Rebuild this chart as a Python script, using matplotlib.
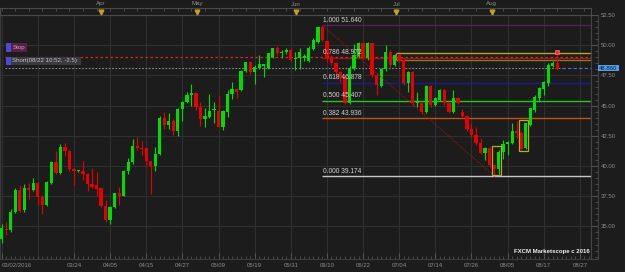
import matplotlib
matplotlib.use('Agg')
import matplotlib.pyplot as plt
import matplotlib.transforms as mtransforms
from matplotlib.patches import Rectangle
import numpy as np

plt.rcParams['font.family'] = ['Liberation Sans', 'DejaVu Sans']

# daily candles, 03/02/2016 .. 08/22/2016
opens = [33.96, 34.8, 34.7, 36.2, 38.0, 36.33, 38.2, 38.0, 38.6, 37.4,
         36.8, 38.6, 40.3, 39.4, 41.6, 41.2, 39.75, 39.6, 39.6, 39.3,
         38.5, 38.4, 38.15, 36.7, 35.5, 36.6, 37.74, 37.55, 39.6, 40.3,
         41.65, 41.5, 41.45, 40.4, 40.0, 40.97, 43.95, 43.4, 43.7, 42.9,
         44.7, 45.3, 45.85, 46.05, 44.9, 43.87, 44.05, 44.65, 44.58, 43.25,
         44.5, 46.0, 46.4, 46.3, 47.86, 48.58, 47.76, 48.14, 48.3, 48.09,
         49.05, 49.74, 49.33, 49.45, 49.6, 48.85, 48.9, 48.95, 48.69, 49.69,
         50.29, 51.53, 50.35, 49.05, 48.55, 47.8, 47.4, 45.19, 48.09, 49.05,
         50.16, 48.9, 50.15, 47.53, 46.65, 48.05, 49.46, 48.36, 49.19, 48.77,
         46.85, 47.8, 45.25, 45.19, 44.5, 46.62, 45.05, 45.46, 46.3, 45.19,
         44.5, 45.6, 44.5, 44.14, 43.04, 42.57, 41.93, 41.05, 41.47, 40.08,
         39.73, 41.18, 41.85, 41.88, 42.92, 42.75, 41.47, 43.4, 44.64, 45.66,
         46.35, 46.9, 48.28, 48.55]
highs = [35.2, 35.39, 36.4, 38.2, 38.4, 38.5, 38.6, 39.0, 38.7, 37.6,
         38.75, 40.45, 41.2, 41.8, 41.9, 41.3, 39.8, 39.7, 40.4, 39.4,
         39.8, 39.5, 38.25, 37.2, 36.7, 37.8, 38.3, 39.7, 40.7, 42.2,
         42.4, 42.1, 41.6, 40.4, 41.55, 44.1, 44.45, 44.35, 43.9, 44.8,
         45.35, 46.15, 46.76, 46.1, 45.3, 44.8, 46.0, 45.3, 45.9, 44.6,
         46.3, 46.98, 46.45, 47.95, 48.65, 48.7, 48.35, 49.2, 48.45, 49.35,
         49.8, 49.9, 49.6, 49.75, 49.75, 49.45, 49.75, 49.3, 49.9, 50.6,
         51.6, 51.64, 50.45, 49.2, 48.6, 47.85, 47.55, 48.25, 50.07, 50.3,
         50.25, 50.3, 50.2, 47.7, 48.1, 50.0, 49.6, 49.3, 49.3, 48.9,
         47.9, 47.9, 46.1, 45.3, 46.7, 46.7, 45.7, 46.4, 46.4, 45.3,
         46.3, 45.7, 44.7, 44.2, 43.6, 43.2, 42.3, 41.6, 41.6, 40.2,
         41.3, 42.15, 42.1, 43.6, 43.7, 42.9, 43.6, 44.9, 45.85, 46.55,
         47.0, 48.5, 48.7, 49.6]
lows = [33.65, 34.3, 34.5, 36.1, 36.2, 36.2, 37.3, 37.9, 36.8, 36.0,
        36.7, 38.5, 39.3, 39.3, 40.8, 39.6, 38.4, 39.5, 38.8, 37.96,
        38.2, 37.5, 36.6, 35.4, 35.2, 36.5, 36.8, 37.5, 39.3, 40.2,
        41.3, 40.9, 40.0, 37.7, 39.6, 40.9, 43.1, 43.1, 42.6, 42.5,
        43.75, 45.2, 45.0, 44.6, 43.3, 43.25, 43.95, 43.6, 43.2, 43.0,
        44.03, 45.55, 45.6, 46.2, 47.8, 47.6, 46.76, 48.0, 47.4, 48.0,
        48.95, 49.2, 48.9, 49.3, 48.7, 47.95, 48.03, 48.7, 48.6, 49.6,
        50.2, 50.35, 48.58, 48.4, 47.53, 46.98, 45.1, 45.1, 47.95, 48.95,
        48.9, 48.8, 47.4, 45.88, 46.5, 47.9, 48.2, 48.25, 48.6, 46.7,
        46.1, 45.0, 44.9, 44.3, 44.4, 44.9, 44.95, 45.35, 45.05, 44.4,
        44.4, 45.1, 44.0, 42.9, 42.4, 41.74, 41.0, 40.5, 39.95, 39.174,
        39.3, 40.6, 40.9, 41.8, 42.3, 41.3, 41.4, 43.3, 44.5, 45.3,
        45.9, 46.6, 48.2, 47.95]
closes = [34.87, 34.7, 36.2, 38.0, 36.3, 38.15, 38.0, 38.6, 37.4, 36.8,
          38.65, 40.3, 39.4, 41.6, 41.2, 39.75, 39.6, 39.65, 39.3, 38.5,
          38.3, 38.1, 36.7, 35.5, 36.6, 37.74, 37.5, 39.6, 40.33, 41.65,
          41.45, 41.4, 40.4, 40.0, 40.97, 43.95, 43.4, 43.7, 42.9, 44.7,
          45.3, 45.88, 46.05, 44.9, 43.87, 44.1, 44.53, 44.7, 43.25, 44.53,
          46.0, 46.4, 46.15, 47.86, 48.58, 47.8, 48.22, 48.42, 48.42, 49.33,
          49.74, 49.33, 49.45, 49.6, 48.78, 48.95, 49.4, 49.1, 49.74, 50.43,
          51.53, 50.43, 48.9, 48.5, 47.76, 47.4, 45.19, 48.09, 49.19, 50.16,
          49.0, 50.15, 47.53, 46.7, 48.05, 49.46, 48.36, 49.19, 48.72, 46.85,
          47.8, 45.19, 45.35, 44.5, 46.62, 45.05, 45.6, 46.3, 45.19, 44.5,
          45.6, 45.24, 44.14, 43.04, 42.57, 41.88, 41.1, 41.47, 40.08, 39.73,
          41.18, 41.8, 41.95, 42.92, 42.75, 41.38, 43.53, 44.78, 45.74, 46.43,
          46.93, 48.36, 48.55, 48.03]

date_ticks = [0, 16, 24, 32, 40, 48, 56, 64, 72, 80, 88, 96, 104, 112, 120, 128]
date_labels = ['03/02/2016', '03/24', '04/05', '04/15', '04/27', '05/09', '05/19',
               '05/31', '06/10', '06/22', '07/04', '07/14', '07/26', '08/05',
               '08/17', '08/27']
month_pos = [22.0, 43.2, 65.2, 87.4, 108.5]
month_names = ['Apr', 'May', 'Jun', 'Jul', 'Aug']
price_ticks = [35.0, 37.5, 40.0, 42.5, 45.0, 47.5, 50.0, 52.5]

fib_ratio = ['1.000', '0.786', '0.618', '0.500', '0.382', '0.000']
fib_price = [51.640, 48.972, 46.878, 45.407, 43.936, 39.174]
fib_color = ['#5e1a5e', '#a01010', '#1c1c8c', '#22c822', '#c0520f', '#c8c8c8']
fib_start = 70.9
swing = (71, 51.64, 109, 39.174)   # high -> low for the fib tool
stop_price = 49.05
entry_price = 48.09
last_label = '48.860'
zone = (87.2, 48.8, 49.33)        # olive rectangle: start, low, high
boxes = [(108.6, 110.6, 39.25, 41.66), (114.6, 116.6, 41.2, 43.8)]

W, H = 625, 272
bg = '#1c1c1c'
grid_c = '#2f2f2f'
txt_c = '#8c8c8c'
x0, x1 = -0.376, 130.46
y0, y1 = 32.3, 52.5

fig = plt.figure(figsize=(W / 100, H / 100), dpi=100)
fig.patch.set_facecolor(bg)

def fy(py):
    return 1 - py / H

ax = fig.add_axes([0, fy(259), 591 / W, 244 / H])
ax.set_facecolor(bg)
ax.set_xlim(x0, x1)
ax.set_ylim(y0, y1)

# grid
for gx in range(0, 131, 8):
    ax.axvline(gx, color=grid_c, lw=0.8, zorder=0)
for gy in price_ticks:
    ax.axhline(gy, color=grid_c, lw=0.8, zorder=0)

# candles
idx = np.arange(len(opens))
o = np.array(opens); c = np.array(closes)
cols = np.where(c >= o, '#00dc00', '#e80000')
ax.vlines(idx, lows, highs, colors=cols, lw=0.8, zorder=3)
body_low = np.minimum(o, c)
body_h = np.maximum(np.abs(c - o), 0.07)
ax.bar(idx, body_h, bottom=body_low, width=0.72, color=cols, lw=0, zorder=4)

# fib levels
for r, p, col in zip(fib_ratio, fib_price, fib_color):
    ax.hlines(p, fib_start, x1, colors=col, lw=1.0, zorder=2)
    ax.text(fib_start + 0.2, p + 0.12, '%s %.3f' % (r, p), color='#d4d4d4',
            fontsize=4.8, va='bottom', ha='left', zorder=6)
ax.plot([swing[0], swing[2]], [swing[1], swing[3]], color='#b01010', lw=0.7,
        ls=(0, (1, 1.2)), zorder=5)

# order lines
ax.hlines(zone[2], zone[0], x1, colors='#a8a82c', lw=1.0, zorder=2)
ax.hlines(zone[1], zone[0], x1, colors='#7c7c22', lw=1.0, zorder=2)
ax.vlines(zone[0], zone[1], zone[2], colors='#8c8c26', lw=0.8, zorder=2)
ax.hlines(stop_price, 0.7, x1, colors='#e42020', lw=0.9, ls=(0, (2, 2)), zorder=2)
ax.hlines(entry_price, 0.7, 124, colors='#8a8a8a', lw=0.8, ls=(0, (1.5, 1.5)), zorder=2)
ax.hlines(entry_price, 124, x1, colors='#4a7ab0', lw=0.8, ls=(0, (3, 2)), zorder=2)
ax.plot([123], [49.4], marker='s', ms=2.6, color='#ff3030', mec='#ff8080', mew=0.4, zorder=7)

for bx0, bx1, by0, by1 in boxes:
    ax.add_patch(Rectangle((bx0, by0), bx1 - bx0, by1 - by0, fill=False,
                           ec='#b8a824', lw=0.9, zorder=6))

# bottom axis
ax.set_xticks(date_ticks)
ax.set_xticklabels(date_labels)
ax.set_xticks(np.arange(0, 131, 1), minor=True)
ax.tick_params(axis='x', which='major', direction='in', length=4, width=0.6,
               color='#5a5a5a', labelcolor=txt_c, labelsize=4.3, pad=3)
ax.tick_params(axis='x', which='minor', direction='in', length=2, width=0.5,
               color='#5a5a5a')
ax.get_xticklabels()[0].set_ha('left')
ax.set_yticks([])
for s in ax.spines.values():
    s.set_color('#3c3c3c')
    s.set_linewidth(0.8)

# right price strip
rax = fig.add_axes([591 / W, fy(259), 7 / W, 244 / H])
rax.set_facecolor(bg)
rax.set_ylim(y0, y1)
rax.set_xticks([])
rax.yaxis.tick_right()
rax.set_yticks(price_ticks)
rax.set_yticklabels(['%.2f' % p for p in price_ticks])
rax.set_yticks(np.arange(32.5, 52.6, 0.5), minor=True)
rax.tick_params(axis='y', which='major', direction='in', length=5, width=0.6,
                color='#5a5a5a', labelcolor=txt_c, labelsize=4.3, pad=2)
rax.tick_params(axis='y', which='minor', direction='in', length=2, width=0.5,
                color='#5a5a5a')
for s in rax.spines.values():
    s.set_color('#444444')
    s.set_linewidth(0.8)
rax.spines['top'].set_visible(False)

# current price label
py = fy(15 + (y1 - entry_price) * 12.08)
fig.patches.append(Rectangle((598 / W, py - 2.8 / H), 21 / W, 5.6 / H,
                             transform=fig.transFigure, fc='#4e9de6', ec='none'))
fig.text(599 / W, py, last_label, color='#0c2038', fontsize=4.3, va='center', ha='left')

# top month strip
tax = fig.add_axes([0, fy(14.7), 591 / W, 6.7 / H])
tax.set_facecolor(bg)
tax.set_xlim(x0, x1)
tax.set_ylim(0, 1)
tax.set_yticks([])
tax.set_xticks(np.arange(0, 131, 3))
tax.tick_params(axis='x', direction='in', length=2, width=0.5, color='#5a5a5a',
                labelbottom=False, top=True, bottom=False)
for s in tax.spines.values():
    s.set_color('#4a4a4a')
    s.set_linewidth(0.8)
tax.plot(month_pos, [0.45] * len(month_pos), ls='none', marker='v', ms=3.4,
         color='#c8a020', zorder=5)
trans = mtransforms.blended_transform_factory(ax.transData, fig.transFigure)
for mp, mn in zip(month_pos, month_names):
    ax.text(mp, fy(4), mn, transform=trans, color=txt_c, fontsize=4.4,
            ha='center', va='center')

# order tags on the left
def tag(y_top, y_bot, x_end, face, label, tcol):
    fig.patches.append(Rectangle((6 / W, fy(y_bot)), 5 / W, (y_bot - y_top) / H,
                                 transform=fig.transFigure, fc='#4a4ad2', ec='none'))
    fig.patches.append(Rectangle((11 / W, fy(y_bot)), (x_end - 11) / W, (y_bot - y_top) / H,
                                 transform=fig.transFigure, fc=face, ec='none'))
    fig.text(12.5 / W, fy((y_top + y_bot) / 2), label, color=tcol, fontsize=4.4,
             va='center', ha='left')

tag(43.3, 52.3, 27.5, '#5a1f48', 'Stop', '#c8a8c0')
tag(56.9, 65.0, 81.5, '#3a3a40', 'Short(08/22 10:52, -2.5)', '#c4c4c4')

fig.text(590 / W, fy(251.5), 'FXCM Marketscope c 2016', color='#f0f0f0',
         fontsize=4.3, fontweight='bold', ha='right', va='center')

fig.savefig('out.png', dpi=100, facecolor=bg)
